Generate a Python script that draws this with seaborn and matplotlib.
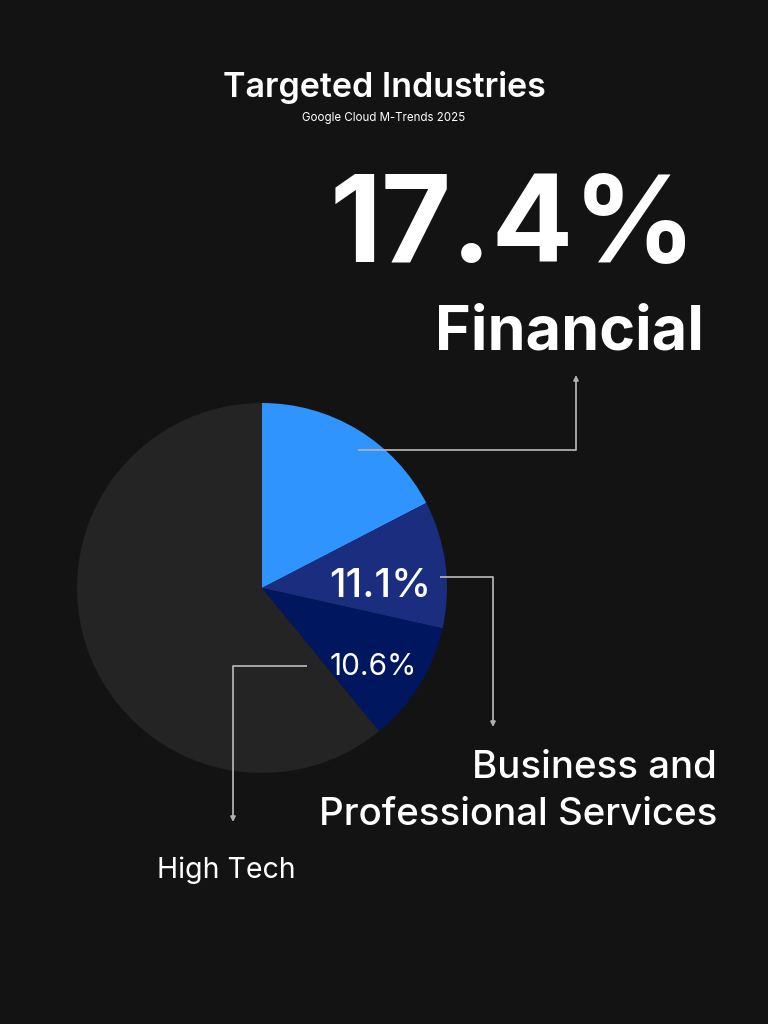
import matplotlib
matplotlib.use("Agg")
import matplotlib.pyplot as plt
import seaborn as sns

# Données
industries = ["Financial", "Business and Professional Services", "High Tech", "Other"]
shares = [17.4, 11.1, 10.6, 60.9]
slice_colors = ["#3094ff", "#1b2d7f", "#00165e", "#242424"]
pct_labels = ["17.4%", "11.1%", "10.6%"]

bg = "#131313"
line_col = "#b0b0b0"

sns.set_theme(style="dark")
plt.rcParams['font.family'] = ['Inter', 'DejaVu Sans']

fig = plt.figure(figsize=(7.68, 10.24), dpi=100, facecolor=bg)

# Axe du camembert (positionné en pixels)
cx, cy, r = 262, 588, 185
ax_pie = fig.add_axes([(cx - r) / 768, (1024 - cy - r) / 1024, 2 * r / 768, 2 * r / 1024])
ax_pie.pie(shares, colors=slice_colors, startangle=90, counterclock=False,
           wedgeprops=dict(linewidth=0))
ax_pie.set_xlim(-1, 1)
ax_pie.set_ylim(-1, 1)
ax_pie.set_aspect("equal")
ax_pie.axis("off")

# Axe de superposition pour le texte et les flèches (coordonnées pixels)
ax = fig.add_axes([0, 0, 1, 1], facecolor="none")
ax.set_xlim(0, 768)
ax.set_ylim(1024, 0)
ax.axis("off")

ax.text(384, 88, "Targeted Industries", color="white", fontsize=24.5, fontweight="semibold",
        ha="center", va="center")
ax.text(384, 118, "Google Cloud M-Trends 2025", color="white", fontsize=8.3,
        ha="center", va="center")

ax.text(697, 262, pct_labels[0], color="white", fontsize=87, fontweight="bold",
        ha="right", va="baseline")
ax.text(704, 349, industries[0], color="white", fontsize=44, fontweight="bold",
        ha="right", va="baseline")

ax.text(380, 597, pct_labels[1], color="white", fontsize=29, fontweight="medium",
        ha="center", va="baseline")
ax.text(373, 675, pct_labels[2], color="white", fontsize=21.5,
        ha="center", va="baseline")

ax.text(717, 778, "Business and", color="white", fontsize=27.7, fontweight="medium",
        ha="right", va="baseline")
ax.text(717, 825, "Professional Services", color="white", fontsize=27.7, fontweight="medium",
        ha="right", va="baseline")
ax.text(157, 878, industries[2], color="white", fontsize=20.5,
        ha="left", va="baseline")

# Flèches coudées
def elbow(points):
    xs = [p[0] for p in points]
    ys = [p[1] for p in points]
    ax.plot(xs[:-1], ys[:-1], color=line_col, lw=1.3, solid_capstyle="butt")
    ax.annotate("", xy=points[-1], xytext=points[-2],
                arrowprops=dict(arrowstyle="-|>", color=line_col, lw=1.3,
                                mutation_scale=7, shrinkA=0, shrinkB=0))

elbow([(358, 450), (576, 450), (576, 375)])
elbow([(440, 577), (493, 577), (493, 727)])
elbow([(307, 666), (233, 666), (233, 822)])

fig.savefig("out.png", dpi=100, facecolor=bg)
